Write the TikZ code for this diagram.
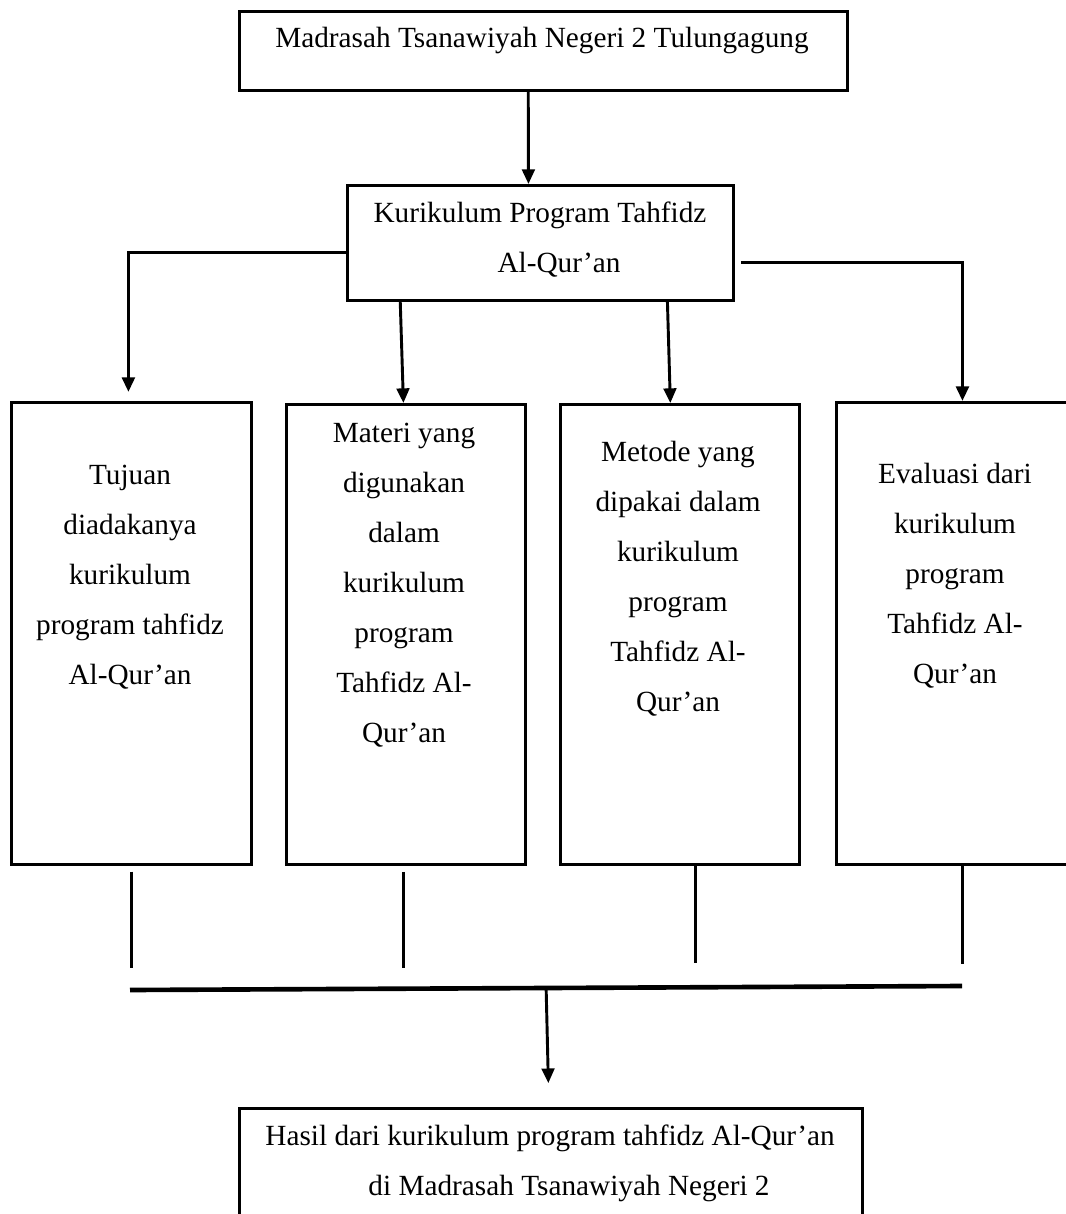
\documentclass[tikz,border=0pt]{standalone}
\usepackage{fontspec}
\setmainfont{Liberation Serif}
\usepackage{tikz}
\usetikzlibrary{arrows.meta}

\begin{document}
\begin{tikzpicture}[x=0.41pt,y=-0.41pt,font=\fontsize{12}{20.5}\selectfont,
	box/.style={draw,line width=1.1pt,rectangle,inner sep=0pt,anchor=north west},
	txt/.style={inner sep=0pt,align=center,anchor=base},
	arr/.style={line width=1.2pt,-{Triangle[length=6pt,width=5.2pt]}},
	bus/.style={line width=1.9pt},
	stem/.style={line width=1pt}]
	\useasboundingbox (0,0) rectangle (1065,1214);

	% draw boxes
	\node[box,minimum width=249.3pt,minimum height=32.4pt] (mts) at (238,10) {};
	\node[box,minimum width=158.3pt,minimum height=47.2pt] (kur) at (346,184) {};
	\node[box,minimum width=98.4pt,minimum height=189.4pt] (tuj) at (10,401) {};
	\node[box,minimum width=98pt,minimum height=188.6pt] (mat) at (285,403) {};
	\node[box,minimum width=98pt,minimum height=188.6pt] (met) at (559,403) {};
	\node[box,minimum width=98.4pt,minimum height=189.4pt] (eva) at (835,401) {};
	\node[box,minimum width=255.4pt,minimum height=65.6pt] (hsl) at (238,1107) {};

	% draw texts (placed at the baseline of the last line)
	\node[txt] (mtsT) at (542,48) {Madrasah Tsanawiyah Negeri 2 Tulungagung};
	\node[txt] (kurT) at (540,273) {Kurikulum Program Tahfidz\\\hspace*{15.6pt}Al-Qur’an};
	\node[txt] (tujT) at (130,684) {Tujuan\\diadakanya\\kurikulum\\program tahfidz\\Al-Qur’an};
	\node[txt] (matT) at (404,742) {Materi yang\\digunakan\\dalam\\kurikulum\\program\\Tahfidz Al-\\Qur’an};
	\node[txt] (metT) at (678,711) {Metode yang\\dipakai dalam\\kurikulum\\program\\Tahfidz Al-\\Qur’an};
	\node[txt] (evaT) at (955,683) {Evaluasi dari\\kurikulum\\program\\Tahfidz Al-\\Qur’an};
	\node[txt] (hslT) at (550,1195) {Hasil dari kurikulum program tahfidz Al-Qur’an\\\hspace*{15.6pt}di Madrasah Tsanawiyah Negeri 2};

	% draw arrows
	\draw[arr] ([xshift=-6.2pt]mts.south) -- ([xshift=-4.9pt]kur.north);
	\draw[arr,line width=1.35pt] ([yshift=-3.9pt]kur.west) -| ([xshift=-1.2pt,yshift=3.7pt]tuj.north);
	\draw[arr,line width=1.35pt] ([xshift=2.5pt,yshift=-8pt]kur.east) -| ([xshift=2.5pt]eva.north);
	\draw[arr] ([xshift=-2.3pt]kur.south -| mat.north) -- ([xshift=-1pt]mat.north);
	\draw[arr] ([xshift=-5.1pt]kur.south -| met.north) -- ([xshift=-3.9pt]met.north);

	% draw bottom lines
	\coordinate (busL) at (130,990);
	\coordinate (busR) at (962,986);
	\draw[stem] ([yshift=-2.5pt]tuj.south) -- ([yshift=9pt]tuj.south |- busL);
	\draw[stem] ([xshift=-1pt,yshift=-2.5pt]mat.south) -- ([xshift=-1pt,yshift=9pt]mat.south |- busL);
	\draw[stem] ([xshift=6.4pt]met.south) -- ([xshift=6.4pt,yshift=11pt]met.south |- busL);
	\draw[stem] ([xshift=2.5pt]eva.south) -- ([xshift=2.5pt,yshift=10.7pt]eva.south |- busL);
	\draw[bus] (busL) -- (busR);
	\draw[arr] ([xshift=-1.9pt]busL -| hsl.north) -- ([xshift=-1pt,yshift=9.8pt]hsl.north);
\end{tikzpicture}
\end{document}
